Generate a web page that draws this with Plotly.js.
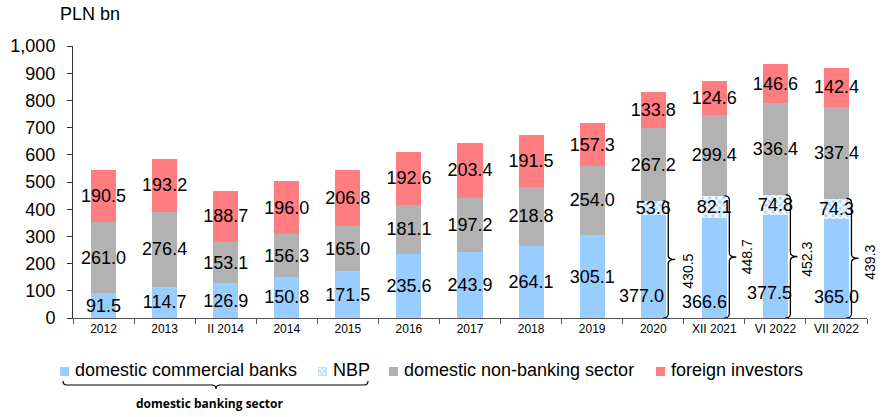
<!DOCTYPE html>
<html>
<head>
<meta charset="utf-8">
<script src="https://cdn.plot.ly/plotly-3.0.1.min.js"></script>
<style>html,body{margin:0;padding:0;background:#fff;}#chart{width:883px;height:417px;}</style>
</head>
<body>
<div id="chart"></div>
<script>
// ---- data ----
const categories = ['2012','2013','II 2014','2014','2015','2016','2017','2018','2019','2020','XII 2021','VI 2022','VII 2022'];
const commercialBanks = [91.5,114.7,126.9,150.8,171.5,235.6,243.9,264.1,305.1,377.0,366.6,377.5,365.0];
const nbp = [null,null,null,null,null,null,null,null,null,53.6,82.1,74.8,74.3];
const nonBanking = [261.0,276.4,153.1,156.3,165.0,181.1,197.2,218.8,254.0,267.2,299.4,336.4,337.4];
const foreignInvestors = [190.5,193.2,188.7,196.0,206.8,192.6,203.4,191.5,157.3,133.8,124.6,146.6,142.4];
const bracedCategories = ['2020','XII 2021','VI 2022','VII 2022'];
const bankingSectorTotals = [430.5,448.7,452.3,439.3];
const seriesNames = ['domestic commercial banks','NBP','domestic non-banking sector','foreign investors'];

// ---- styling ----
const COL_BLUE = '#99ccff', COL_GRAY = '#b2b2b2', COL_RED = '#ff7c80';
const FONT = 'Arial, "Liberation Sans", sans-serif';
const M = {l:73, r:16, t:46, b:99};
const W = 883, H = 417;
const plotH = H - M.t - M.b;
const yMax = 1000;
const unitsPerPx = yMax / plotH;

const fmt = v => (v == null ? '' : v.toFixed(1));
const braceIdx = bracedCategories.map(c => categories.indexOf(c));

// manual nudges of the commercial-bank labels on braced bars (pixels)
const blueLabelDx = [-12,-10,-6,0];
const blueLabelDy = [22,16,25,21];

const commonBar = {
  type:'bar', x:categories, textposition:'inside', insidetextanchor:'middle',
  textangle:0, constraintext:'none', cliponaxis:false,
  textfont:{family:FONT, size:18, color:'#000'}, hoverinfo:'skip'
};

const traces = [
  Object.assign({}, commonBar, {name:seriesNames[0], y:commercialBanks,
    text:commercialBanks.map((v,i) => braceIdx.includes(i) ? '' : fmt(v)),
    marker:{color:COL_BLUE}}),
  Object.assign({}, commonBar, {name:seriesNames[1], y:nbp, text:nbp.map(fmt),
    marker:{color:'#c4e2ff', pattern:{shape:'x', fgcolor:'#ffffff', bgcolor:'#b4dafe', size:5, solidity:0.5}}}),
  Object.assign({}, commonBar, {name:seriesNames[2], y:nonBanking, text:nonBanking.map(fmt),
    marker:{color:COL_GRAY}}),
  Object.assign({}, commonBar, {name:seriesNames[3], y:foreignInvestors, text:foreignInvestors.map(fmt),
    marker:{color:COL_RED}})
];

const annotations = [];
const shapes = [];

// labels of commercial banks for braced bars (x given as category index)
braceIdx.forEach((ci, k) => {
  annotations.push({x:ci, y:0, xref:'x', yref:'y', text:fmt(commercialBanks[ci]),
    showarrow:false, xanchor:'center', yanchor:'middle', xshift:blueLabelDx[k], yshift:blueLabelDy[k],
    font:{family:FONT, size:18, color:'#000'}});
});

// curly braces for domestic banking sector totals
const braceLabelDx = [35,33,32,34];
const braceLabelDy = [-12,0,-3,-4];
braceIdx.forEach((ci, k) => {
  const T = bankingSectorTotals[k];
  const Mid = T/2;
  const u = unitsPerPx;
  const path = `M 10,${T} Q 15,${T} 15,${T-4*u} L 15,${Mid+4*u} Q 15,${Mid} 22,${Mid} ` +
               `Q 15,${Mid} 15,${Mid-4*u} L 15,${4*u} Q 15,0 10,0`;
  shapes.push({type:'path', xref:'x', yref:'y', xsizemode:'pixel', xanchor:ci, path:path,
    line:{color:'#000', width:1.3}});
  annotations.push({x:ci, y:Mid, xref:'x', yref:'y', text:fmt(T), textangle:-90, showarrow:false,
    xanchor:'center', yanchor:'middle', xshift:braceLabelDx[k], yshift:braceLabelDy[k],
    font:{family:FONT, size:14, color:'#000'}});
});

// manual legend (pixel offsets relative to plot area bottom-left)
const legendSwatchX = [-13, 245, 316, 583];
const legendTextX = [0, 258, 329, 596];
const legendColors = [COL_BLUE, '#c6e3fe', COL_GRAY, COL_RED];
seriesNames.forEach((n, k) => {
  shapes.push({type:'rect', xref:'paper', yref:'paper', xsizemode:'pixel', ysizemode:'pixel',
    xanchor:0, yanchor:0, x0:legendSwatchX[k], x1:legendSwatchX[k]+9, y0:-58, y1:-49,
    fillcolor:legendColors[k], line:{width:0}});
  annotations.push({xref:'paper', yref:'paper', x:0, y:0, xshift:legendTextX[k], yshift:-52,
    xanchor:'left', yanchor:'middle', text:n, showarrow:false,
    font:{family:FONT, size:18, color:'#000'}});
});
// NBP swatch pattern dots
[[247,-51],[251,-51],[249,-53.5],[247,-56],[251,-56]].forEach(p => {
  shapes.push({type:'rect', xref:'paper', yref:'paper', xsizemode:'pixel', ysizemode:'pixel',
    xanchor:0, yanchor:0, x0:p[0]-1, x1:p[0]+1, y0:p[1]-1, y1:p[1]+1, fillcolor:'#eef7ff', line:{width:0}});
});

// underbrace for "domestic banking sector"
shapes.push({type:'path', xref:'paper', yref:'paper', xsizemode:'pixel', ysizemode:'pixel',
  xanchor:0, yanchor:0,
  path:'M -10,-63 Q -10,-67 -6,-67 L 139,-67 Q 143,-67 143,-71 Q 143,-67 147,-67 L 291,-67 Q 295,-67 295,-63',
  line:{color:'#000', width:1.2}});
annotations.push({xref:'paper', yref:'paper', x:0, y:0, xshift:136, yshift:-85, xanchor:'center', yanchor:'middle',
  text:'<b>domestic banking sector</b>', showarrow:false,
  font:{family:'"Open Sans", "Noto Sans", sans-serif', size:12, color:'#000'}});

const layout = {
  width:W, height:H, margin:M, paper_bgcolor:'#fff', plot_bgcolor:'#fff',
  barmode:'stack', bargap:0.59, showlegend:false,
  font:{family:FONT, color:'#000'},
  title:{text:'PLN bn', xref:'container', yref:'container', x:60/W, y:1-14/H, xanchor:'left', yanchor:'middle',
    font:{family:FONT, size:18, color:'#000'}},
  xaxis:{type:'category', range:[-0.5, categories.length-0.5], tickson:'boundaries', ticks:'outside', ticklen:5,
    tickcolor:'#555', showline:true, linecolor:'#555', linewidth:1, showgrid:false,
    tickfont:{family:FONT, size:12, color:'#000'}, fixedrange:true},
  yaxis:{range:[0,yMax], dtick:100, tickformat:',d', ticks:'outside', ticklen:5, tickcolor:'#333',
    showline:true, linecolor:'#333', linewidth:1, showgrid:false, zeroline:false, ticklabelstandoff:8,
    tickfont:{family:FONT, size:18, color:'#000'}, fixedrange:true},
  annotations:annotations, shapes:shapes
};

Plotly.newPlot('chart', traces, layout, {displayModeBar:false, staticPlot:true});
</script>
</body>
</html>
